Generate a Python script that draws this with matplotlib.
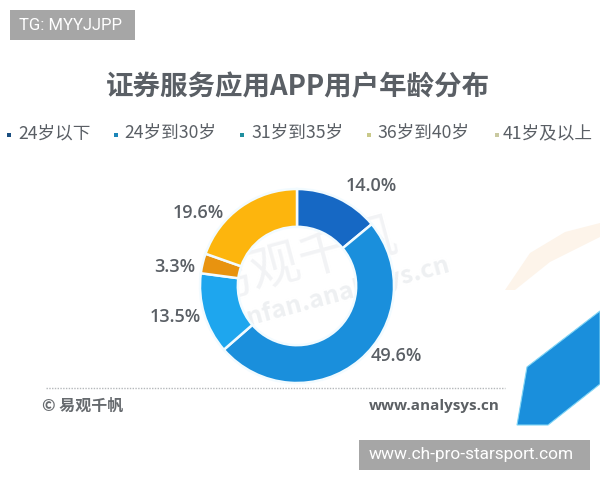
#!/usr/bin/env python
# -*- coding:utf-8 -*-
import matplotlib
matplotlib.use('Agg')
import matplotlib.pyplot as plt
from matplotlib.patches import Polygon, Rectangle

plt.rcParams['font.family'] = ['Noto Sans CJK SC', 'DejaVu Sans']

# data
categories = ['24岁以下', '24岁到30岁', '31岁到35岁', '36岁到40岁', '41岁及以上']
# slices run clockwise from the top
slice_values = [14.0, 49.6, 13.5, 3.3, 19.6]
slice_labels = ['14.0%', '49.6%', '13.5%', '3.3%', '19.6%']
slice_colors = ['#1668c4', '#1a8fdc', '#1ea6ee', '#e8930f', '#fdb50d']
legend_colors = ['#1b4f80', '#1c86b8', '#1f8f9f', '#c9c98a', '#c9c9a0']

title = '证券服务应用APP用户年龄分布'
TEXT = '#5a5f65'

fig = plt.figure(figsize=(6, 4.8), dpi=100, facecolor='white')

# page layer, in image pixels
bg = fig.add_axes([0, 0, 1, 1])
bg.set_xlim(0, 600)
bg.set_ylim(480, 0)
bg.axis('off')

# corner decoration
bg.add_patch(Polygon([[505, 290], [530, 253], [565, 232], [600, 223], [600, 237],
                      [550, 262], [515, 290]], fc='#fdf4ea', ec='none'))
bg.add_patch(Polygon([[527, 367], [600, 311], [600, 384], [595, 388], [548, 425], [517, 425]],
                     fc='#1a8fdc', ec='#7fd4f5', lw=0.8))

# watermark
bg.text(300, 262, '易观千帆', fontsize=36, color='#f2f3f5', rotation=15, ha='center', va='center')
bg.text(330, 296, 'qianfan.analysys.cn', fontsize=18, color='#eef0f2', rotation=15,
        ha='center', va='center', fontweight='bold')

bg.text(297.5, 87, title, fontsize=19.8, fontweight='bold', color=TEXT, ha='center', va='center')

# legend row
legend_marker_x = [9, 116, 242, 369, 497]
legend_text_x = [18, 124, 251, 377, 503]
for mx, tx, name, c in zip(legend_marker_x, legend_text_x, categories, legend_colors):
    bg.scatter([mx], [135], s=9, marker='s', color=c, linewidths=0)
    bg.text(tx, 134, name, fontsize=12.7, color=TEXT, ha='left', va='center')

# footer
bg.plot([46, 505], [388, 388], color='#b5b8bb', lw=1, ls=(0, (1, 1)))
bg.text(42, 406, '© 易观千帆', fontsize=11.5, color='#666a6e', ha='left', va='center', fontweight='bold')
bg.text(500, 406, 'www.analysys.cn', fontsize=11, color='#5c6064', ha='right', va='center',
        fontweight='bold', family=['Open Sans', 'DejaVu Sans'])

# value labels
label_xy = [(371, 186), (396, 356), (175, 317), (175, 267), (198, 213)]
for (x, y), s in zip(label_xy, slice_labels):
    bg.text(x, y, s, fontsize=13, color=TEXT, ha='center', va='center',
            family=['Open Sans', 'DejaVu Sans'], fontweight='semibold')

# donut
ax = fig.add_axes([200 / 600, (480 - 383) / 480, 194 / 600, 194 / 480])
ax.patch.set_alpha(0)
ax.pie(slice_values, colors=slice_colors, startangle=90, counterclock=False,
       radius=1, wedgeprops=dict(width=0.39, edgecolor='#f2fbff', linewidth=1.8))
ax.set_xlim(-1, 1)
ax.set_ylim(-1, 1)

# grey tag boxes
top = fig.add_axes([0, 0, 1, 1])
top.set_xlim(0, 600)
top.set_ylim(480, 0)
top.axis('off')
top.add_patch(Rectangle((10, 10), 125, 30, fc='#a6a6a6', ec='none'))
top.text(19, 25.5, 'TG: MYYJJPP', fontsize=12, color='white', ha='left', va='center',
         family=['Roboto', 'DejaVu Sans'])
top.add_patch(Rectangle((359, 440), 231, 30, fc='#a6a6a6', ec='none'))
top.text(369, 455, 'www.ch-pro-starsport.com', fontsize=12.4, color='white', ha='left', va='center',
         family=['Roboto', 'DejaVu Sans'])

fig.savefig('out.png', dpi=100, facecolor='white')
